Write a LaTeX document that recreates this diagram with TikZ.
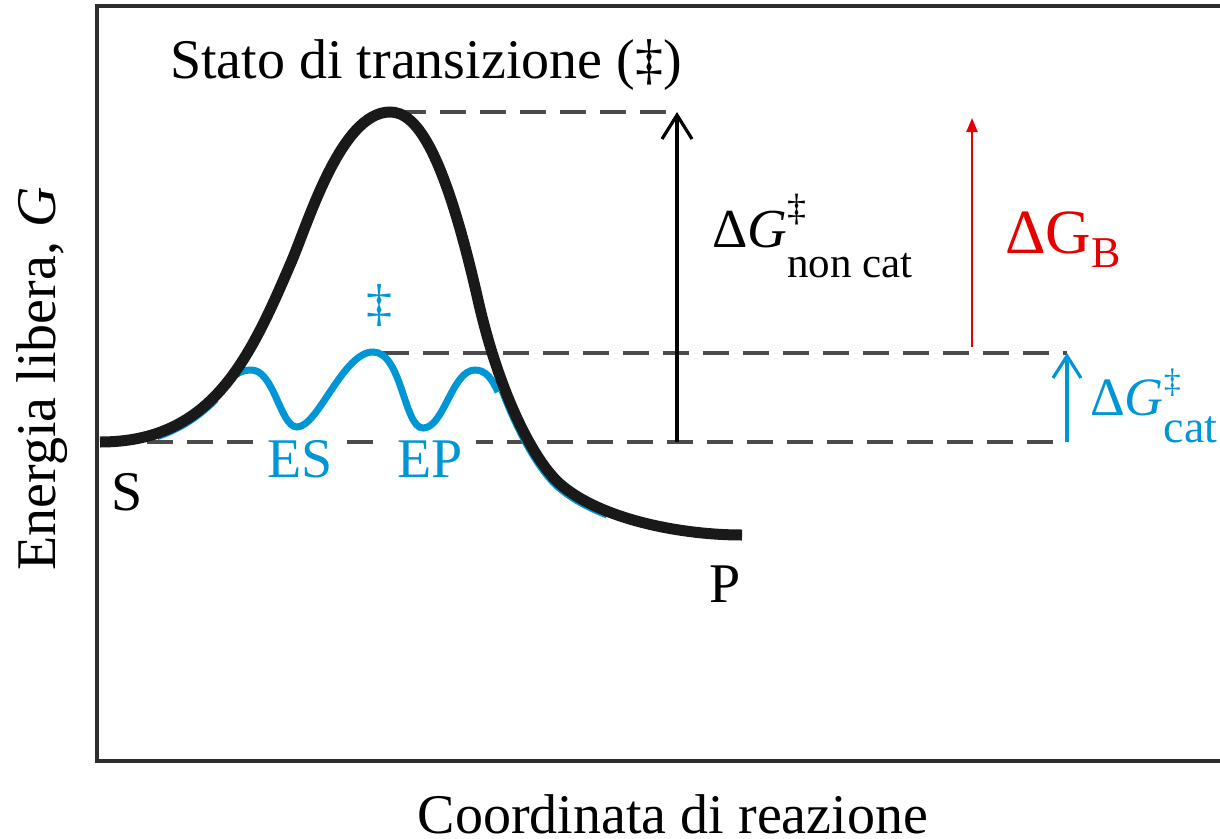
\documentclass[tikz,border=0pt]{standalone}
\usepackage{fontspec}
\setmainfont{Liberation Serif}
\usetikzlibrary{arrows.meta}
\definecolor{cblue}{RGB}{0,150,214}
\definecolor{cred}{RGB}{230,0,0}
\definecolor{dgray}{RGB}{75,75,75}
\definecolor{boxgray}{RGB}{45,45,45}
\begin{document}
\begin{tikzpicture}[x=1pt,y=-1pt,
  dashline/.style={dgray, line width=3.2pt, dash pattern=on 26pt off 14pt},
  txt/.style={inner sep=0pt, anchor=base, font=\fontsize{56}{60}\selectfont},
  bluetxt/.style={txt, text=cblue},
  blackarrow/.style={line width=3.2pt, -{Straight Barb[length=24pt,width=30pt,line width=3.2pt]}},
  bluearrow/.style={cblue, line width=3.2pt, -{Straight Barb[length=22pt,width=28pt,line width=3.2pt]}},
  redarrow/.style={cred, line width=2.2pt, -{Triangle[length=14pt,width=11pt]}},
  blackcurve/.style={line width=11pt, black!90, line cap=butt},
  bluecurve/.style={cblue, line width=7pt}]
\useasboundingbox (0,0) rectangle (1220,838);

% frame
\draw[boxgray, line width=3.8pt] (1225,6) -- (97,6) -- (97,761) -- (1225,761);

% dashed reference levels
\coordinate (topL) at (400,112);
\coordinate (ncTop) at (677,112);
\coordinate (midL) at (383,353);
\coordinate (catTop) at (1067,353);
\coordinate (botL) at (147,442);
\coordinate (ncBot) at (677,442);
\coordinate (catBot) at (1067,442);
\coordinate (redBot) at (972,347);
\coordinate (redTop) at (972,118);

\draw[dashline] (topL) -- (ncTop);
\draw[dashline] (midL) -- (catTop);
\draw[dashline] (botL) -- (catBot);

% blue catalysed curve: tails follow the black curve, slightly offset
\begin{scope}
  \clip (158,300) rectangle (218,460);
  \draw[bluecurve, shift={(1pt,-3pt)}] (100,442) .. controls (210,442) and (248,363) .. (290,265);
\end{scope}
\begin{scope}
  \clip (470,392) rectangle (606,560);
  \draw[bluecurve, shift={(-2pt,-3pt)}] (478,300) .. controls (500,397) and (535,462) .. (560,484)
     .. controls (600,519) and (680,535) .. (742,535);
\end{scope}
\draw[bluecurve] (216,395) .. controls (228,382) and (236,370) .. (250,370)
  .. controls (274,368) and (280,427) .. (297,427)
  .. controls (318,427) and (343,352) .. (373,352)
  .. controls (402,352) and (404,428) .. (423,428)
  .. controls (444,428) and (452,370) .. (475,370)
  .. controls (486,370) and (492,379) .. (498,392);

% black uncatalysed curve
\draw[blackcurve] (100,442) .. controls (210,442) and (248,363) .. (290,265)
  .. controls (307,227) and (340,112) .. (390,112)
  .. controls (415,112) and (443,146) .. (478,300)
  .. controls (500,397) and (535,462) .. (560,484)
  .. controls (600,519) and (680,535) .. (742,535);

% arrows
\draw[blackarrow] (ncBot) -- (ncTop);
\draw[bluearrow] (catBot) -- (catTop);
\draw[redarrow] (redBot) -- (redTop);

% labels
\node[txt] (title) at (426,78) {Stato di transizione (‡)};
\node[txt] (S) at (127,510) {S};
\node[txt] (P) at (725,602) {P};
\node[bluetxt, fill=white, inner xsep=13pt, inner ysep=3pt] (ES) at (300,477) {ES};
\node[bluetxt, fill=white, inner xsep=13pt, inner ysep=3pt] (EP) at (430,477) {EP};
\node[bluetxt, font=\fontsize{52}{52}\selectfont] (dag) at (379,320) {‡};

\node[txt, anchor=base west, font=\fontsize{55}{60}\selectfont] (ncat) at (712,247)
  {Δ\textit{G}\rlap{\raisebox{27pt}{\fontsize{38}{38}\selectfont ‡}}\raisebox{-30pt}{\fontsize{43}{43}\selectfont non cat}};
\node[txt, anchor=base west, text=cred, font=\fontsize{63}{63}\selectfont] (GB) at (1005,253)
  {ΔG\raisebox{-14pt}{\fontsize{44}{44}\selectfont B}};
\node[bluetxt, anchor=base west, font=\fontsize{54}{54}\selectfont] (cat) at (1090,415)
  {Δ\textit{G}\rlap{\raisebox{23pt}{\fontsize{34}{34}\selectfont ‡}}\raisebox{-27pt}{\fontsize{46}{46}\selectfont cat}};

\node[txt, rotate=90] (ylab) at (55,379) {Energia libera, \textit{G}};
\node[txt] (xlab) at (673,833) {Coordinata di reazione};
\end{tikzpicture}
\end{document}
